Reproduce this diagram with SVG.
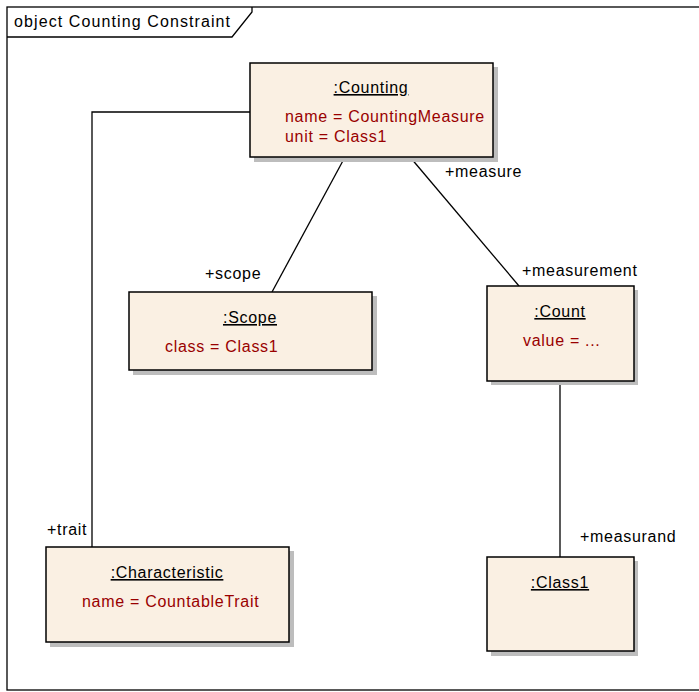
<svg xmlns="http://www.w3.org/2000/svg" width="699" height="692" viewBox="0 0 699 692">
<style>
  text { font-family: "Liberation Sans", Arial, sans-serif; font-size: 16px; letter-spacing: 0.7px; fill: #000; }
  .title { letter-spacing: 1.1px; }
  .name { text-anchor: middle; text-decoration: underline; }
  .attr { fill: #990000; }
  .box { fill: #FAF0E3; stroke: #000; stroke-width: 1.5; }
  .shadow { fill: #BDBDBD; }
  .conn { fill: none; stroke: #000; stroke-width: 1.3; }
  .frame { fill: none; stroke: #000; stroke-width: 1.3; }
</style>
<rect width="699" height="692" fill="#fff"/>
<g id="frame">
  <rect class="frame" x="7" y="7" width="700" height="683"/>
  <path class="frame" d="M7,37 L232,37 L252,12 L252,7"/>
  <text class="title" x="14" y="27">object Counting Constraint</text>
</g>
<g id="connectors">
  <path class="conn" d="M250,112 L92,112 L92,547"/>
  <path class="conn" d="M345,157 L272,292"/>
  <path class="conn" d="M410,157 L519,286"/>
  <path class="conn" d="M560,381 L560,557"/>
  <text x="445" y="177">+measure</text>
  <text x="205" y="279">+scope</text>
  <text x="522" y="276">+measurement</text>
  <text x="47" y="535">+trait</text>
  <text x="580" y="542">+measurand</text>
</g>
<g id="counting">
  <rect class="shadow" x="254" y="67" width="244" height="95"/>
  <rect class="box" x="250" y="63" width="243" height="94"/>
  <text class="name" x="371" y="93">:Counting</text>
  <text class="attr" x="285" y="122">name = CountingMeasure</text>
  <text class="attr" x="285" y="142">unit = Class1</text>
</g>
<g id="scope">
  <rect class="shadow" x="133" y="296" width="244" height="79"/>
  <rect class="box" x="129" y="292" width="243" height="78"/>
  <text class="name" x="250" y="323">:Scope</text>
  <text class="attr" x="165" y="352">class = Class1</text>
</g>
<g id="count">
  <rect class="shadow" x="491" y="290" width="147" height="95"/>
  <rect class="box" x="487" y="286" width="147" height="95"/>
  <text class="name" x="560" y="317">:Count</text>
  <text class="attr" x="523" y="346">value = ...</text>
</g>
<g id="characteristic">
  <rect class="shadow" x="50" y="551" width="244" height="96"/>
  <rect class="box" x="46" y="547" width="243" height="95"/>
  <text class="name" x="167" y="578">:Characteristic</text>
  <text class="attr" x="82" y="607">name = CountableTrait</text>
</g>
<g id="class1">
  <rect class="shadow" x="491" y="561" width="147" height="95"/>
  <rect class="box" x="487" y="557" width="147" height="94"/>
  <text class="name" x="560" y="588">:Class1</text>
</g>
</svg>
